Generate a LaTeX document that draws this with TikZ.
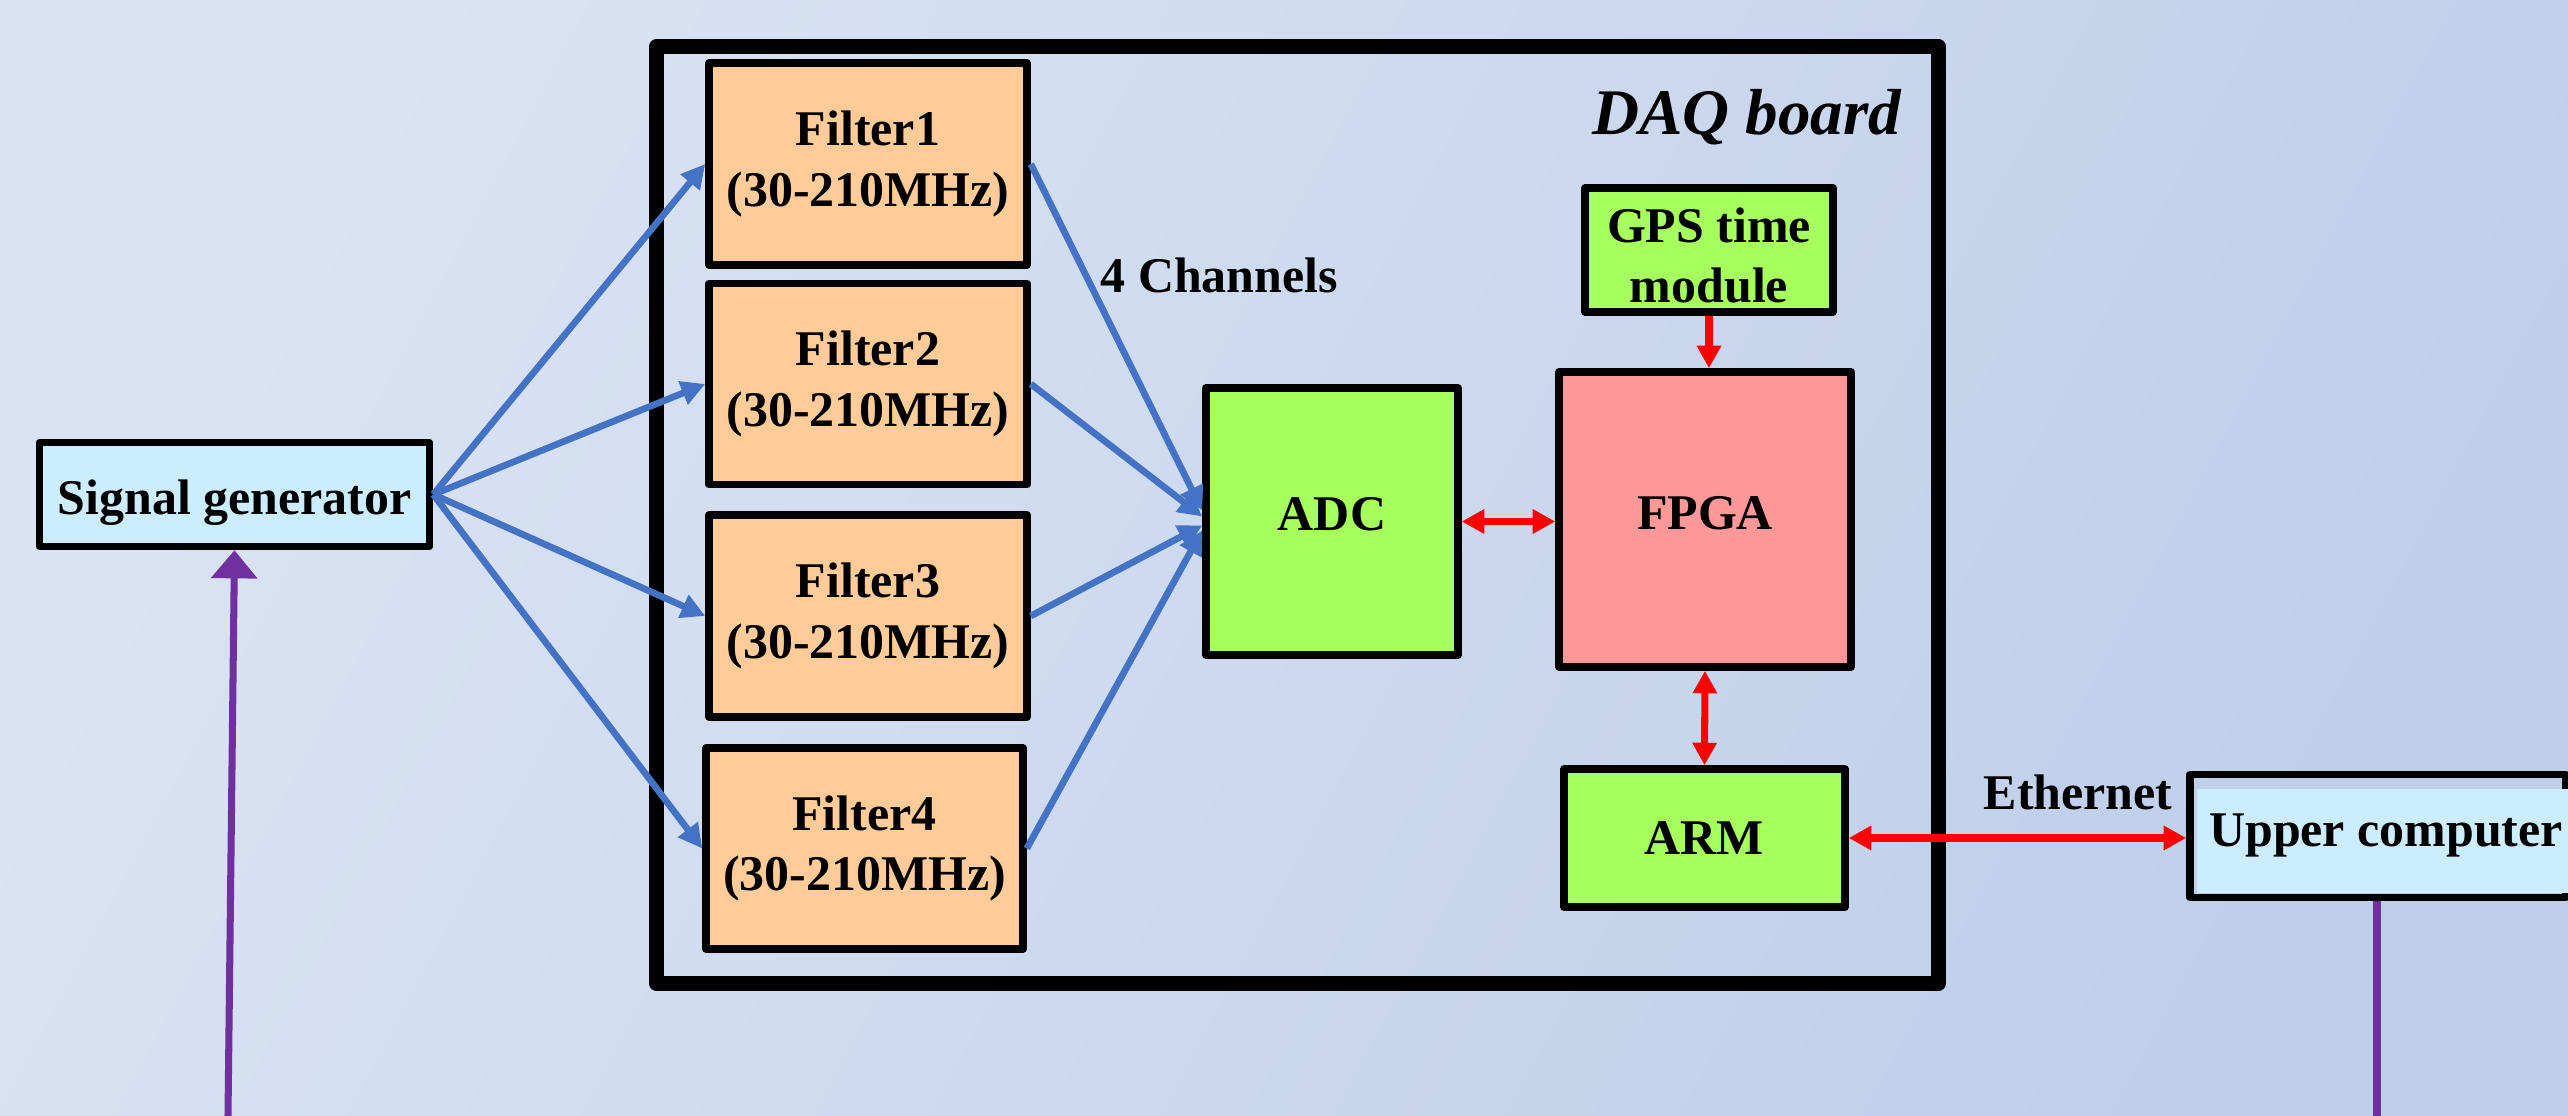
\documentclass[tikz,border=0pt]{standalone}
\usepackage{fontspec}
\setmainfont{Liberation Serif}
\usetikzlibrary{arrows.meta,calc}

\definecolor{bgA}{HTML}{DAE3F3}
\definecolor{bgB}{HTML}{BFCFEA}
\definecolor{filterC}{HTML}{FFCC99}
\definecolor{greenC}{HTML}{A6FF5F}
\definecolor{fpgaC}{HTML}{FF9999}
\definecolor{hostC}{HTML}{CCECFF}
\definecolor{sigBlue}{HTML}{4472C4}
\definecolor{linkRed}{HTML}{FF0000}
\definecolor{trigPurple}{HTML}{7030A0}

\newcommand{\lbl}{\fontsize{14.2pt}{17.1pt}\selectfont\bfseries}
\newcommand{\daqfont}{\fontsize{18.5pt}{22pt}\selectfont\bfseries\itshape}

\begin{document}
\begin{tikzpicture}[x=0.01cm, y=-0.01cm,
  blk/.style={draw=black, line width=2.1pt, line join=round, inner sep=0pt,
    align=center, font=\lbl},
  filt/.style={blk, fill=filterC, minimum width=3.18cm, minimum height=2.02cm},
  txt/.style={inner sep=0pt, font=\lbl},
  bluearrow/.style={draw=sigBlue, line width=1.9pt,
    -{Triangle[length=6.8pt, width=6.8pt]}},
  redboth/.style={draw=linkRed, line width=2pt,
    {Triangle[length=6.4pt, width=6.6pt]}-{Triangle[length=6.4pt, width=6.6pt]}},
  redone/.style={draw=linkRed, line width=2pt,
    -{Triangle[length=6.4pt, width=6.6pt]}},
  purpleline/.style={draw=trigPurple, line width=2pt}
]
\useasboundingbox (0,0) rectangle (2568,1116);
\shade[left color=bgA, right color=bgB, shading angle=62] (0,0) rectangle (2568,1116);

% acquisition board frame
\node[draw=black, line width=4.3pt, line join=round, inner sep=0pt,
  minimum width=12.81cm, minimum height=9.36cm] (daq) at (1297.5,515) {};
\node[inner sep=0pt, font=\daqfont, anchor=base east] (daqlbl) at (1902,135) {DAQ board};

% signal source
\node[blk, fill=hostC, minimum width=3.90cm, minimum height=1.04cm,
  text height=0.39cm, text depth=0pt] (sig) at (234.5,494.5) {Signal generator};

% band-pass filters
\node[filt] (f1) at (868,164) {Filter1\\(30-210MHz)};
\node[filt, minimum height=2.01cm] (f2) at (868,384) {Filter2\\(30-210MHz)};
\node[filt] (f3) at (868,616) {Filter3\\(30-210MHz)};
\node[filt, minimum width=3.17cm, minimum height=2.01cm] (f4) at (864.5,848.5) {Filter4\\(30-210MHz)};

% digitiser and processing
\node[blk, fill=greenC, minimum width=2.52cm, minimum height=2.67cm,
  text height=0.19cm, text depth=0pt] (adc) at (1332,521.5) {ADC};
\node[blk, fill=fpgaC, minimum width=2.92cm, minimum height=2.95cm,
  text height=0.21cm, text depth=0pt] (fpga) at (1705,519.5) {FPGA};
\node[blk, fill=greenC, minimum width=2.48cm, minimum height=1.24cm] (gps) at (1709,250)
  {\rule{0pt}{0.46cm}GPS time\\module};
\node[blk, fill=greenC, minimum width=2.81cm, minimum height=1.38cm,
  text height=0.32cm, text depth=0pt] (arm) at (1704.5,838) {ARM};

% host computer
\node[blk, minimum width=3.76cm, minimum height=1.225cm] (upc) at (2378,836) {};
\fill[hostC] (2197,789) rectangle (2575,893);
\node[txt, anchor=base] (upclbl) at (2386,847) {Upper computer};

% labels
\node[txt, anchor=base west] (chlbl) at (1100,293) {4 Channels};
\node[txt, anchor=base west] (ethlbl) at (1983,810) {Ethernet};

% signal fan-out to the filters
\foreach \f in {f1,f2,f3,f4}
  \draw[bluearrow] (sig.east) -- (\f.west);

% filters into the ADC
\coordinate (in1) at ($(adc.west)+(0,-11)$);
\coordinate (in2) at ($(adc.west)+(0,-5)$);
\coordinate (in3) at ($(adc.west)+(0,4)$);
\coordinate (in4) at ($(adc.west)+(0,9)$);
\draw[bluearrow] (f1.east) -- (in1);
\draw[bluearrow] (f2.east) -- (in2);
\draw[bluearrow] (f3.east) -- (in3);
\draw[bluearrow] (f4.east) -- (in4);

% board-internal links
\draw[redboth] (adc.east) -- (fpga.west |- adc.east);
\draw[redone] (gps.south) -- (gps.south |- fpga.north);
\draw[redboth] (fpga.south) -- (arm.north);
\draw[redboth] (arm.east) -- (upc.west |- arm.east);

% trigger lines leaving the bottom edge
\coordinate (trigA) at (228,1116);
\coordinate (trigB) at (2377,1116);
\draw[purpleline, -{Triangle[length=8pt, width=12.8pt]}] (trigA) -- (sig.south);
\draw[purpleline] (upc.south -| trigB) -- (trigB);
\end{tikzpicture}
\end{document}
